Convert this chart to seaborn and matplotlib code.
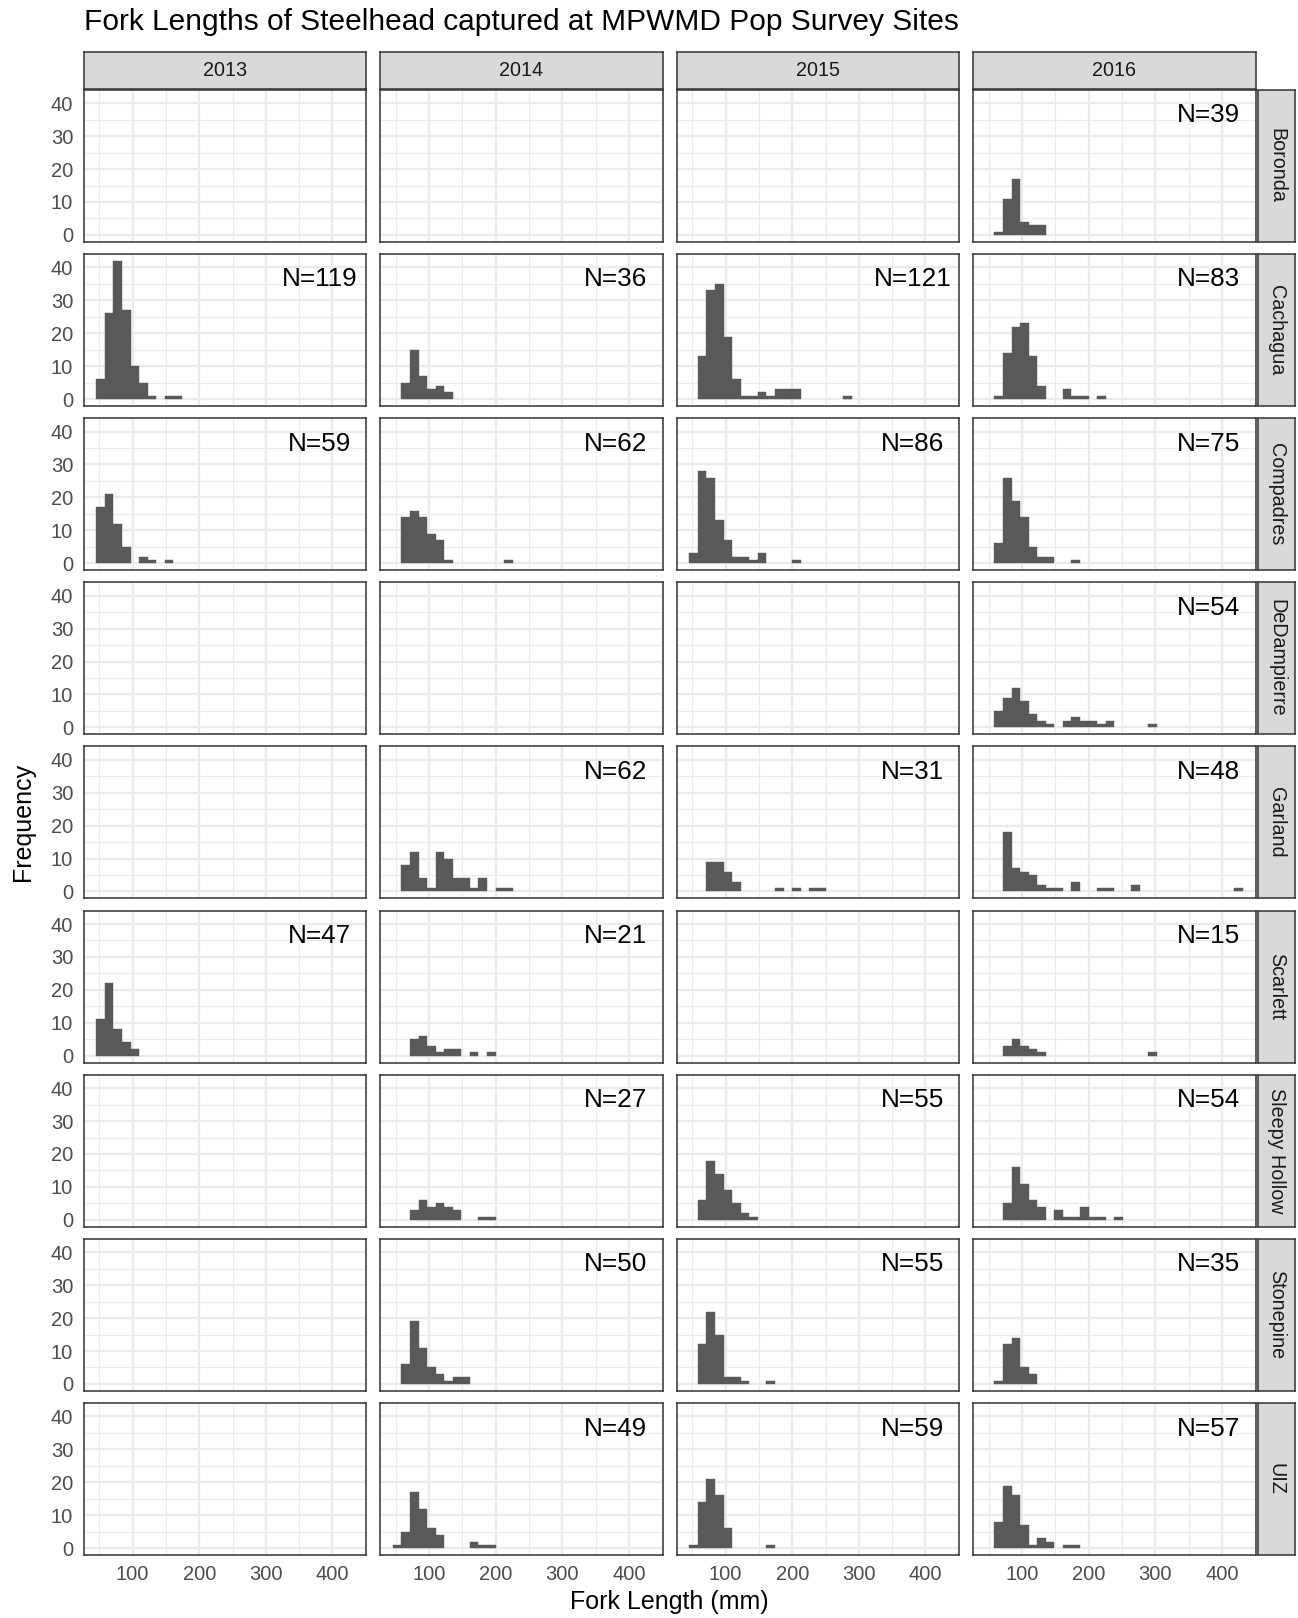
import numpy as np
import pandas as pd
import matplotlib
matplotlib.use("Agg")
import matplotlib.pyplot as plt
import seaborn as sns

# ---------------- data (counts per bin, bin 0 starts at 45.5 mm, width 12.85 mm) -------------
years = ["2013", "2014", "2015", "2016"]
sites = ["Boronda", "Cachagua", "Compadres", "DeDampierre", "Garland",
         "Scarlett", "Sleepy Hollow", "Stonepine", "UIZ"]

bin_start = 45.5
bin_width = 12.85
n_bins = 30

boronda_2016 = [0, 1, 11, 17, 4, 3, 3]
cachagua_2013 = [6, 26, 42, 27, 10, 5, 1, 0, 1, 1]
cachagua_2014 = [0, 5, 15, 7, 3, 4, 2]
cachagua_2015 = [0, 13, 33, 35, 19, 6, 1, 1, 2, 1, 3, 3, 3, 0, 0, 0, 0, 0, 1]
cachagua_2016 = [0, 1, 14, 22, 23, 13, 4, 0, 0, 3, 1, 1, 0, 1]
compadres_2013 = [17, 21, 12, 5, 0, 2, 1, 0, 1]
compadres_2014 = [0, 14, 16, 14, 9, 7, 1, 0, 0, 0, 0, 0, 0, 1]
compadres_2015 = [3, 28, 26, 13, 7, 2, 2, 1, 3, 0, 0, 0, 1]
compadres_2016 = [0, 6, 26, 19, 14, 5, 2, 2, 0, 0, 1]
dedampierre_2016 = [0, 5, 9, 12, 8, 4, 2, 1, 0, 2, 3, 2, 2, 1, 2, 0, 0, 0, 0, 1]
garland_2014 = [0, 8, 12, 4, 1, 12, 10, 4, 4, 1, 4, 0, 1, 1]
garland_2015 = [0, 0, 9, 9, 6, 3, 0, 0, 0, 0, 1, 0, 1, 0, 1, 1]
garland_2016 = [0, 0, 18, 7, 6, 5, 2, 1, 1, 0, 3, 0, 0, 1, 1, 0, 0, 2,
                0, 0, 0, 0, 0, 0, 0, 0, 0, 0, 0, 1]
scarlett_2013 = [11, 22, 8, 4, 2]
scarlett_2014 = [0, 0, 5, 6, 3, 1, 2, 2, 0, 1, 0, 1]
scarlett_2016 = [0, 0, 3, 5, 3, 2, 1, 0, 0, 0, 0, 0, 0, 0, 0, 0, 0, 0, 0, 1]
sleepy_2014 = [0, 0, 3, 6, 4, 5, 4, 3, 0, 0, 1, 1]
sleepy_2015 = [0, 6, 18, 14, 9, 5, 2, 1]
sleepy_2016 = [0, 0, 5, 16, 11, 6, 4, 0, 3, 1, 1, 4, 1, 1, 0, 1]
stonepine_2014 = [0, 6, 19, 11, 5, 3, 1, 2, 2]
stonepine_2015 = [0, 12, 22, 15, 2, 2, 1, 0, 0, 1]
stonepine_2016 = [0, 1, 12, 14, 5, 3]
uiz_2014 = [1, 5, 17, 12, 6, 4, 0, 0, 0, 2, 1, 1]
uiz_2015 = [1, 14, 21, 16, 6, 0, 0, 0, 0, 1]
uiz_2016 = [0, 8, 19, 16, 7, 1, 3, 2, 0, 1, 1]

n_boronda = [None, None, None, 39]
n_cachagua = [119, 36, 121, 83]
n_compadres = [59, 62, 86, 75]
n_dedampierre = [None, None, None, 54]
n_garland = [None, 62, 31, 48]
n_scarlett = [47, 21, None, 15]
n_sleepy = [None, 27, 55, 54]
n_stonepine = [None, 50, 55, 35]
n_uiz = [None, 49, 59, 57]

counts = {
    ("Boronda", "2016"): boronda_2016,
    ("Cachagua", "2013"): cachagua_2013, ("Cachagua", "2014"): cachagua_2014,
    ("Cachagua", "2015"): cachagua_2015, ("Cachagua", "2016"): cachagua_2016,
    ("Compadres", "2013"): compadres_2013, ("Compadres", "2014"): compadres_2014,
    ("Compadres", "2015"): compadres_2015, ("Compadres", "2016"): compadres_2016,
    ("DeDampierre", "2016"): dedampierre_2016,
    ("Garland", "2014"): garland_2014, ("Garland", "2015"): garland_2015,
    ("Garland", "2016"): garland_2016,
    ("Scarlett", "2013"): scarlett_2013, ("Scarlett", "2014"): scarlett_2014,
    ("Scarlett", "2016"): scarlett_2016,
    ("Sleepy Hollow", "2014"): sleepy_2014, ("Sleepy Hollow", "2015"): sleepy_2015,
    ("Sleepy Hollow", "2016"): sleepy_2016,
    ("Stonepine", "2014"): stonepine_2014, ("Stonepine", "2015"): stonepine_2015,
    ("Stonepine", "2016"): stonepine_2016,
    ("UIZ", "2014"): uiz_2014, ("UIZ", "2015"): uiz_2015, ("UIZ", "2016"): uiz_2016,
}
n_labels = dict(zip(sites, [n_boronda, n_cachagua, n_compadres, n_dedampierre,
                            n_garland, n_scarlett, n_sleepy, n_stonepine, n_uiz]))

edges = bin_start + bin_width * np.arange(n_bins + 1)
centers = (edges[:-1] + edges[1:]) / 2

rows = []
for (site, yr), cl in counts.items():
    for i, c in enumerate(cl):
        if c > 0:
            rows.append({"site": site, "year": yr, "length": float(centers[i]),
                         "count": float(c)})
df = pd.DataFrame(rows)

# ---------------- styling -------------
sns.set_style("white")
plt.rcParams["font.family"] = ["Liberation Sans", "DejaVu Sans"]

W, H = 1298, 1618
fig = plt.figure(figsize=(W / 100, H / 100), dpi=100)

col_left = [83.5, 380.0, 676.5, 973.0]
pw = 282.5
row_top = [89.8 + 164.15 * i for i in range(9)]
ph = 152.0

GRID = "#EBEBEB"
DARK = "#333333"
TICKTXT = "#4D4D4D"
FILL = "#595959"

def rect(l, t, w, h):
    return [l / W, 1 - (t + h) / H, w / W, h / H]

for r, site in enumerate(sites):
    for c, yr in enumerate(years):
        ax = fig.add_axes(rect(col_left[c], row_top[r], pw, ph))
        ax.set_facecolor("white")
        ax.set_axisbelow(True)
        sub = df[(df.site == site) & (df.year == yr)]
        if len(sub):
            sns.histplot(data=sub, x="length", weights="count",
                         binwidth=bin_width, binrange=(float(edges[0]), float(edges[-1])),
                         color=FILL, alpha=1, edgecolor=FILL, linewidth=0.3,
                         ax=ax)
            for p in ax.patches:
                if p.get_height() <= 0:
                    p.set_visible(False)
        ax.set_xlim(26.2, 450.3)
        ax.set_ylim(-2.1, 44.1)
        ax.set_xticks([100, 200, 300, 400])
        ax.set_xticks([50, 150, 250, 350, 450], minor=True)
        ax.set_yticks([0, 10, 20, 30, 40])
        ax.set_yticks([5, 15, 25, 35], minor=True)
        ax.grid(True, which="major", color=GRID, linewidth=1.7)
        ax.grid(True, which="minor", color=GRID, linewidth=0.85)
        ax.set_xlabel("")
        ax.set_ylabel("")
        for sp in ax.spines.values():
            sp.set_color(DARK)
            sp.set_linewidth(1.1)
        ax.tick_params(which="minor", length=0)
        ax.tick_params(which="major", color=DARK, width=1.0, length=5,
                       labelsize=14.5, labelcolor=TICKTXT, pad=2.5)
        if c != 0:
            ax.tick_params(axis="y", which="major", length=0, labelleft=False)
        if r != len(sites) - 1:
            ax.tick_params(axis="x", which="major", length=0, labelbottom=False)
        nl = n_labels[site][c]
        if nl is not None:
            ax.text(0.835, 0.786, f"N={nl}", transform=ax.transAxes,
                    ha="center", va="baseline", fontsize=18.8, color="black")

    # right-side strip
    sax = fig.add_axes(rect(1258.0, row_top[r], 37.0, ph))
    sax.set_facecolor("#D9D9D9")
    sax.set_xticks([]); sax.set_yticks([])
    for sp in sax.spines.values():
        sp.set_color(DARK); sp.set_linewidth(1.1)
    sax.text(0.5, 0.5, site, rotation=270, ha="center", va="center",
             fontsize=14.2, color="#1A1A1A", transform=sax.transAxes)

for c, yr in enumerate(years):
    sax = fig.add_axes(rect(col_left[c], 51.6, pw, 37.2))
    sax.set_facecolor("#D9D9D9")
    sax.set_xticks([]); sax.set_yticks([])
    for sp in sax.spines.values():
        sp.set_color(DARK); sp.set_linewidth(1.1)
    sax.text(0.5, 0.5, yr, ha="center", va="center", fontsize=14.2,
             color="#1A1A1A", transform=sax.transAxes)

fig.text(83.5 / W, 1 - 29.5 / H, "Fork Lengths of Steelhead captured at MPWMD Pop Survey Sites",
         ha="left", va="baseline", fontsize=21.5, color="black")
fig.text(669.5 / W, 1 - 1602 / H, "Fork Length (mm)", ha="center", va="center",
         fontsize=18, color="black")
fig.text(23 / W, 1 - 822 / H, "Frequency", ha="center", va="center",
         rotation=90, fontsize=18, color="black")

fig.savefig("out.png", dpi=100, facecolor="white")
